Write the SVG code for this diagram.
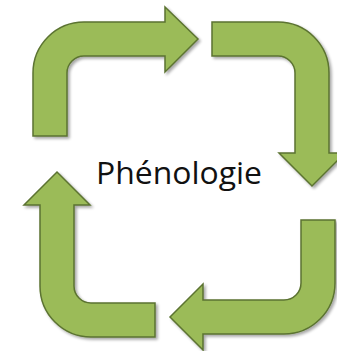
<svg xmlns="http://www.w3.org/2000/svg" width="337" height="351" viewBox="0 0 337 351">
  <defs>
    <filter id="shadow" x="-10%" y="-10%" width="130%" height="130%">
      <feGaussianBlur in="SourceAlpha" stdDeviation="1.5"/>
      <feOffset dx="1.5" dy="2" result="b"/>
      <feComponentTransfer><feFuncA type="linear" slope="0.35"/></feComponentTransfer>
      <feMerge><feMergeNode/><feMergeNode in="SourceGraphic"/></feMerge>
    </filter>
  </defs>
  <style>
    .arrow { fill: #9BBB59; stroke: #5B7330; stroke-width: 1.5; stroke-linejoin: miter; filter: url(#shadow); }
    .label { font-family: "Open Sans", "Liberation Sans", sans-serif; font-size: 31px; fill: #111111; }
  </style>
  <rect width="337" height="351" fill="#ffffff"/>
  <g id="connectors">
    <g id="arrow-top-left">
      <path class="arrow" d="M33,136 L33,73 A51,51 0 0 1 84,22 L165,22 L165,7 L198,39 L165,72 L165,56 L84,56 A17,17 0 0 0 67,73 L67,136 Z"/>
    </g>
    <g id="arrow-top-right">
      <path class="arrow" d="M212,22 L278,22 A51,51 0 0 1 329,73 L329,153 L345,153 L312,186 L279,153 L295,153 L295,73 A17,17 0 0 0 278,56 L212,56 Z"/>
    </g>
    <g id="arrow-bottom-right">
      <path class="arrow" d="M335,220 L335,283 A51,51 0 0 1 284,334 L203,334 L203,350 L170,317 L203,284 L203,300 L284,300 A17,17 0 0 0 301,283 L301,220 Z"/>
    </g>
    <g id="arrow-bottom-left">
      <path class="arrow" d="M155,337 L91,337 A51,51 0 0 1 40,286 L40,205 L24,205 L57,172 L90,205 L74,205 L74,286 A17,17 0 0 0 91,303 L155,303 Z"/>
    </g>
  </g>
  <g id="node-phenologie">
    <text class="label" x="96" y="184" textLength="166" lengthAdjust="spacingAndGlyphs">Phénologie</text>
  </g>
</svg>
